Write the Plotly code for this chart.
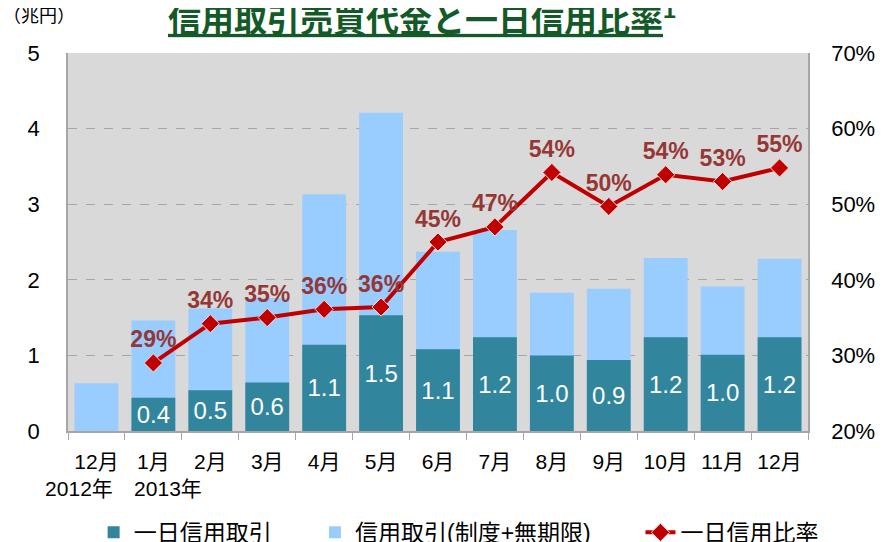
import plotly.graph_objects as go

NB = '\u00a0'
months = ['12月<br>2012年' + NB * 6, '1月<br>' + NB * 5 + '2013年', '2月', '3月', '4月', '5月', '6月',
          '7月', '8月', '9月', '10月', '11月', '12月']
# 信用取引(制度+無期限) total, 兆円
margin_total = [0.63, 1.46, 1.62, 1.76, 3.13, 4.21, 2.37, 2.66, 1.83, 1.88, 2.29, 1.91, 2.28]
# 一日信用取引, 兆円
day_margin = [None, 0.44, 0.54, 0.64, 1.14, 1.53, 1.08, 1.24, 1.00, 0.94, 1.24, 1.01, 1.24]
# 一日信用比率, %
day_ratio = [None, 29.0, 34.2, 35.0, 36.1, 36.4, 45.0, 47.0, 54.2, 49.7, 53.9, 53.0, 54.8]

FONT = 'Liberation Sans, Arial, Noto Sans CJK JP, sans-serif'

fig = go.Figure()

# trailing nbsp widen the legend entries like the original
fig.add_trace(go.Bar(x=months, y=margin_total, name='信用取引(制度+無期限)' + NB * 7,
                     marker=dict(color='#99CCFF', line=dict(width=0)), legendrank=2,
                     hoverinfo='y'))
fig.add_trace(go.Bar(x=months, y=day_margin, name='一日信用取引' + NB * 6,
                     marker=dict(color='#31859C', line=dict(width=0)), legendrank=1,
                     texttemplate='%{y:.1f}', textposition='inside', insidetextanchor='middle',
                     textangle=0, constraintext='none',
                     textfont=dict(color='white', size=24, family=FONT)))
fig.add_trace(go.Scatter(x=months, y=day_ratio, name='一日信用比率', yaxis='y2',
                         mode='lines+markers+text', legendrank=3,
                         line=dict(color='#C00000', width=4),
                         marker=dict(symbol='diamond', size=14, color='#C00000',
                                     line=dict(color='#F2DCDB', width=1)),
                         texttemplate='%{y:.0f}%', textposition='top center',
                         textfont=dict(color='#953735', size=23, family=FONT, weight='bold')))

# page body adds an 8px offset, so the figure is 8px smaller than the window
fig.update_layout(
    width=875, height=534,
    margin=dict(l=60, r=75, t=45, b=111),
    paper_bgcolor='white', plot_bgcolor='#D9D9D9',
    barmode='overlay', bargap=0.23,
    font=dict(family=FONT, color='black', size=18),
    showlegend=True,
    legend=dict(orientation='h', x=0.515, xanchor='center', xref='container',
                y=0.018, yanchor='middle', yref='container',
                font=dict(size=23, family=FONT), traceorder='normal', itemwidth=30),
    xaxis=dict(type='category', range=[-0.5, len(months) - 0.5], showline=True,
               linecolor='#A6A6A6', linewidth=1.5,
               ticks='outside', tickson='boundaries', ticklen=7, tickcolor='#A6A6A6',
               tickfont=dict(size=21), tickangle=0, showgrid=False, automargin=False,
               ticklabelstandoff=11),
    yaxis=dict(range=[0, 5], dtick=1, showline=True, linecolor='#A6A6A6', linewidth=1.5,
               gridcolor='#A6A6A6', griddash='dash', gridwidth=1, zeroline=False,
               tickfont=dict(size=22), ticks='', ticklabelstandoff=22, automargin=False),
    yaxis2=dict(range=[20, 70], dtick=10, overlaying='y', side='right', showgrid=False,
                showline=True, linecolor='#A6A6A6', linewidth=1.5, ticksuffix='%',
                tickfont=dict(size=22), zeroline=False, ticklabelstandoff=17,
                automargin=False),
    annotations=[
        dict(text='<b><u>信用取引売買代金と一日信用比率</u></b><sup><b>1</b></sup>',
             xref='paper', yref='paper', x=0.478, y=1.0, yshift=35, xanchor='center',
             yanchor='middle', showarrow=False,
             font=dict(size=33, color='#145A28', family=FONT)),
        dict(text='（兆円）', xref='paper', yref='paper', x=-0.09, y=1.0, yshift=37,
             xanchor='left', yanchor='middle', showarrow=False, font=dict(size=18)),
    ],
)

fig.write_html('out.html')
